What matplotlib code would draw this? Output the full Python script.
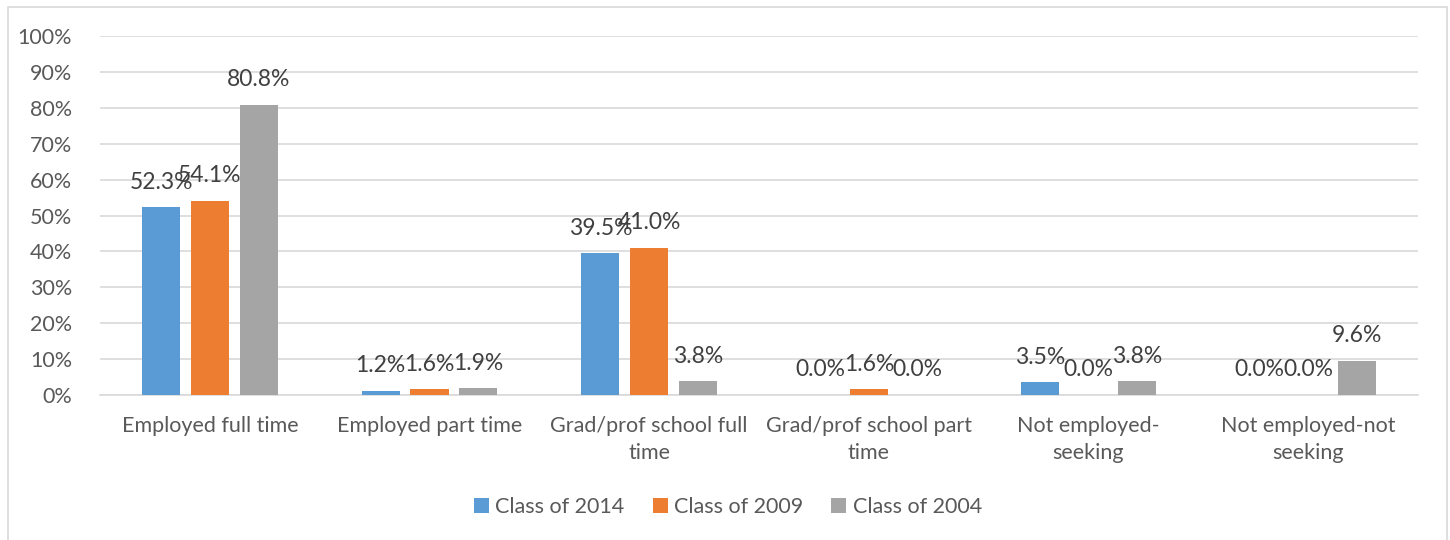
import matplotlib.pyplot as plt
import numpy as np
from matplotlib.patches import Rectangle

categories = ['Employed full time', 'Employed part time', 'Grad/prof school full\ntime',
              'Grad/prof school part\ntime', 'Not employed-\nseeking', 'Not employed-not\nseeking']
series_names = ['Class of 2014', 'Class of 2009', 'Class of 2004']
class_2014 = [52.3, 1.2, 39.5, 0.0, 3.5, 0.0]
class_2009 = [54.1, 1.6, 41.0, 1.6, 0.0, 0.0]
class_2004 = [80.8, 1.9, 3.8, 0.0, 3.8, 9.6]
colors = ['#5B9BD5', '#ED7D31', '#A5A5A5']

plt.rcParams['font.family'] = ['Lato', 'DejaVu Sans']
txt = '#595959'
grid = '#D9D9D9'

fig = plt.figure(figsize=(14.5, 5.4), dpi=100)
fig.patches.append(Rectangle((8 / 1450, -0.01), 1439 / 1450, 1 - 7 / 540 + 0.01,
                             transform=fig.transFigure, fill=False,
                             edgecolor='#D9D9D9', linewidth=1.2))
ax = fig.add_axes([100 / 1450, 1 - 395 / 540, 1318 / 1450, 359 / 540])

x = np.arange(len(categories))
w = 0.173
step = 0.222
for i, (vals, name, c) in enumerate(zip([class_2014, class_2009, class_2004], series_names, colors)):
    xs = x + (i - 1) * step
    ax.bar(xs, vals, width=w, color=c, label=name, zorder=3)
    for xi, v in zip(xs, vals):
        ax.annotate(f'{v:.1f}%', (xi, v), xytext=(0, 18), textcoords='offset points',
                    ha='center', va='center', fontsize=16.5, color='#404040')

ax.set_xlim(-0.5, len(categories) - 0.5)
ax.set_ylim(0, 100)
ax.set_yticks(np.arange(0, 101, 10))
ax.set_yticklabels([f'{t}%' for t in range(0, 101, 10)])
ax.set_xticks(x)
ax.set_xticklabels(categories, linespacing=1.45)
ax.tick_params(axis='both', length=0, labelsize=15.5, labelcolor=txt)
ax.tick_params(axis='y', pad=20)
ax.tick_params(axis='x', pad=15)
ax.grid(axis='y', color=grid, linewidth=1.2, zorder=0)
for s in ['top', 'right', 'left']:
    ax.spines[s].set_visible(False)
ax.spines['bottom'].set_color(grid)
ax.spines['bottom'].set_linewidth(1.2)

fig.legend(loc='center', bbox_to_anchor=(0.502, 1 - 507 / 540), ncol=3, frameon=False,
           fontsize=15.5, labelcolor=txt, handlelength=0.7, handleheight=0.7,
           handletextpad=0.3, columnspacing=1.3)

fig.savefig('out.png', dpi=100)
